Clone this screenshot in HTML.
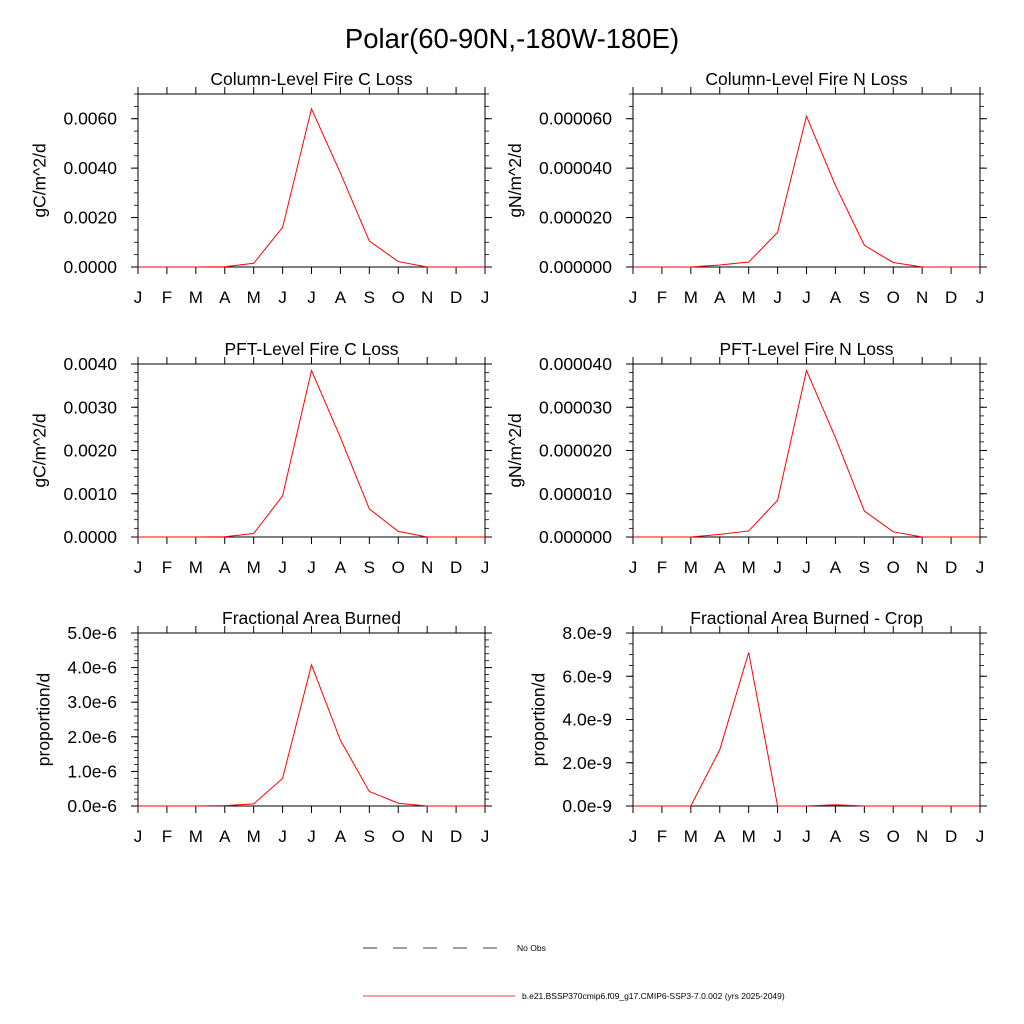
<!DOCTYPE html>
<html><head><meta charset="utf-8"><style>
html,body{margin:0;padding:0;background:#fff;}
svg{display:block;font-family:"Liberation Sans",sans-serif;}
</style></head><body>
<svg id="chart" width="1024" height="1024" viewBox="0 0 1024 1024" xmlns="http://www.w3.org/2000/svg">
<rect width="1024" height="1024" fill="#fff"/>
<text x="512" y="48" font-size="27.5" text-anchor="middle">Polar(60-90N,-180W-180E)</text>
<g>
<line x1="363" y1="948" x2="512" y2="948" stroke="#000" stroke-width="0.8" stroke-dasharray="14,16"/>
<text x="517" y="951" font-size="8.5">No Obs</text>
<line x1="363" y1="996" x2="515" y2="996" stroke="#d00" stroke-width="0.8"/>
<text x="522" y="999" font-size="8.5">b.e21.BSSP370cmip6.f09_g17.CMIP6-SSP3-7.0.002 (yrs 2025-2049)</text>
</g>
</svg>
<script>
const months = ["J","F","M","A","M","J","J","A","S","O","N","D","J"];
const colC = [0,0,0,0.00001,0.00015,0.0016,0.0064,0.0038,0.00105,0.00022,0,0,0];
const colN = [0,0,0,0.0000008,0.000002,0.000014,0.000061,0.000033,0.0000088,0.0000018,0,0,0];
const pftC = [0,0,0,0.000005,0.00008,0.00095,0.00385,0.0023,0.00065,0.00013,0,0,0];
const pftN = [0,0,0,0.0000006,0.0000014,0.0000085,0.0000385,0.000023,0.000006,0.0000012,0,0,0];
const fracArea = [0,0,0,0.01e-6,0.06e-6,0.8e-6,4.08e-6,1.9e-6,0.42e-6,0.08e-6,0,0,0];
const cropArea = [0,0,0,2.6e-9,7.1e-9,0,0,0.06e-9,0,0,0,0,0];
const colCTicks = ["0.0000","0.0020","0.0040","0.0060"];
const colNTicks = ["0.000000","0.000020","0.000040","0.000060"];
const pftCTicks = ["0.0000","0.0010","0.0020","0.0030","0.0040"];
const pftNTicks = ["0.000000","0.000010","0.000020","0.000030","0.000040"];
const fracTicks = ["0.0e-6","1.0e-6","2.0e-6","3.0e-6","4.0e-6","5.0e-6"];
const cropTicks = ["0.0e-9","2.0e-9","4.0e-9","6.0e-9","8.0e-9"];

const NS="http://www.w3.org/2000/svg";
const svg=document.getElementById('chart');
function mk(tag,attrs,parent){const e=document.createElementNS(NS,tag);for(const k in attrs)e.setAttribute(k,attrs[k]);parent.appendChild(e);return e;}

const panels=[
 {name:"column-fire-c",title:"Column-Level Fire C Loss",yt:"gC/m^2/d",data:colC,ticks:colCTicks,step:0.002,max:0.007,minor:0.0005,x0:138,y0:94},
 {name:"column-fire-n",title:"Column-Level Fire N Loss",yt:"gN/m^2/d",data:colN,ticks:colNTicks,step:0.00002,max:0.00007,minor:0.000005,x0:633,y0:94},
 {name:"pft-fire-c",title:"PFT-Level Fire C Loss",yt:"gC/m^2/d",data:pftC,ticks:pftCTicks,step:0.001,max:0.004,minor:0.0002,x0:138,y0:364},
 {name:"pft-fire-n",title:"PFT-Level Fire N Loss",yt:"gN/m^2/d",data:pftN,ticks:pftNTicks,step:0.00001,max:0.00004,minor:0.000002,x0:633,y0:364},
 {name:"fractional-area-burned",title:"Fractional Area Burned",yt:"proportion/d",data:fracArea,ticks:fracTicks,step:1e-6,max:5e-6,minor:0.2e-6,x0:138,y0:633},
 {name:"fractional-area-burned-crop",title:"Fractional Area Burned - Crop",yt:"proportion/d",data:cropArea,ticks:cropTicks,step:2e-9,max:8e-9,minor:0.5e-9,x0:633,y0:633}
];
const W=347,H=173;
panels.forEach(p=>{
 const g=mk('g',{},svg);
 
 
 const xs=i=>p.x0+i*W/12;
 const ys=v=>p.y0+H-v/p.max*H;
 const t=mk('text',{x:p.x0+W/2,y:p.y0-9,'font-size':17.5,'text-anchor':'middle'},g);
 t.textContent=p.title;
 
 
 const nMinor=Math.round(p.max/p.minor);
 for(let k=0;k<=nMinor;k++){const y=ys(k*p.minor);
  mk('line',{x1:p.x0-4,y1:y,x2:p.x0,y2:y,stroke:'#000','stroke-width':0.8},g);
  mk('line',{x1:p.x0+W,y1:y,x2:p.x0+W+4,y2:y,stroke:'#000','stroke-width':0.8},g);}
 let maxW=0;
 p.ticks.forEach((lab,k)=>{const y=ys(k*p.step);
  mk('line',{x1:p.x0-7,y1:y,x2:p.x0,y2:y,stroke:'#000','stroke-width':1},g);
  mk('line',{x1:p.x0+W,y1:y,x2:p.x0+W+7,y2:y,stroke:'#000','stroke-width':1},g);
  const tl=mk('text',{x:p.x0-21,y:y+6,'font-size':17.5,'text-anchor':'end'},g);
  tl.textContent=lab;
  
  
  maxW=Math.max(maxW,tl.getComputedTextLength());});
 months.forEach((m,i)=>{const x=xs(i);
  mk('line',{x1:x,y1:p.y0+H,x2:x,y2:p.y0+H+7,stroke:'#000','stroke-width':1},g);
  mk('line',{x1:x,y1:p.y0-7,x2:x,y2:p.y0,stroke:'#000','stroke-width':1},g);
  const tl=mk('text',{x:x,y:p.y0+H+36,'font-size':17,'text-anchor':'middle'},g);
  tl.textContent=m;
  
  });
 const tx=p.x0-21-maxW-18;
 const yt=mk('text',{x:0,y:0,'font-size':17.5,'text-anchor':'middle',transform:`translate(${tx},${p.y0+H/2}) rotate(-90)`},g);
 yt.textContent=p.yt;
 
 
 const fr=mk('rect',{x:p.x0,y:p.y0,width:W,height:H,fill:'none',stroke:'#000','stroke-width':1},g);
 
 
 const pl=mk('polyline',{points:p.data.map((v,i)=>xs(i)+','+ys(v)).join(' '),fill:'none',stroke:'#f00','stroke-width':1},g);
 
 
});
</script>
</body></html>
